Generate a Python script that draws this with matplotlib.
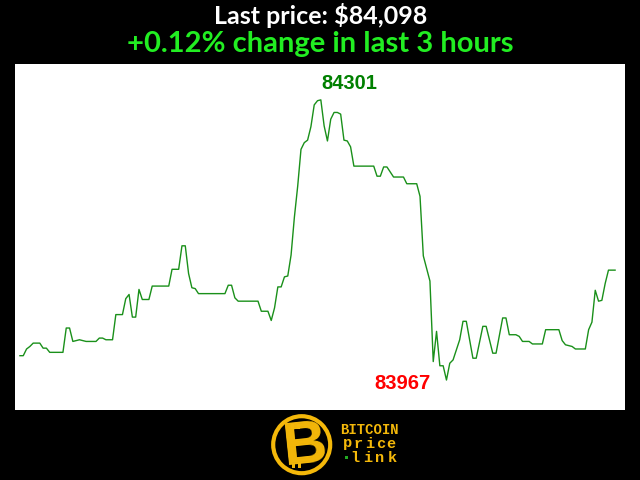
import numpy as np
import matplotlib.pyplot as plt
from matplotlib.patches import Circle, Rectangle

# precio de BTC en las ultimas 3 horas (minuto, USD)
minutos = [0, 1, 2, 3, 4, 6, 7, 8, 9, 13, 14, 15, 16, 18, 19, 20, 23, 24, 25, 26, 28,
           29, 31, 32, 33, 34, 35, 36, 37, 39, 40, 45, 46, 48, 49, 50, 51, 52, 53, 54,
           62, 63, 64, 65, 66, 72, 73, 75, 76, 77, 78, 79, 80, 81, 82, 83, 84, 85, 86,
           87, 88, 89, 90, 91, 92, 93, 94, 95, 96, 97, 98, 99, 100, 101, 107, 108, 109,
           110, 111, 113, 116, 117, 120, 121, 122, 124, 125, 126, 127, 128, 129, 130,
           131, 133, 134, 135, 137, 138, 140, 141, 143, 144, 146, 147, 148, 150, 151,
           152, 154, 155, 158, 159, 163, 164, 165, 167, 168, 171, 172, 173, 174, 175,
           176, 177, 178, 180]
precios = [83996, 83996, 84004, 84007, 84011, 84011, 84005, 84005, 84000, 84000, 84029,
           84029, 84013, 84015, 84014, 84013, 84013, 84017, 84017, 84015, 84015, 84045,
           84045, 84064, 84069, 84042, 84042, 84075, 84063, 84063, 84079, 84079, 84099,
           84099, 84127, 84127, 84094, 84077, 84076, 84070, 84070, 84080, 84080, 84065,
           84061, 84061, 84049, 84049, 84038, 84053, 84078, 84078, 84090, 84091, 84116,
           84161, 84198, 84242, 84250, 84253, 84269, 84295, 84300, 84301, 84270, 84252,
           84278, 84286, 84286, 84284, 84253, 84252, 84245, 84222, 84222, 84210, 84210,
           84221, 84221, 84209, 84209, 84201, 84201, 84186, 84115, 84085, 83989, 84025,
           83984, 83984, 83967, 83987, 83991, 84015, 84037, 84037, 83993, 83993, 84031,
           84031, 83999, 83999, 84041, 84041, 84021, 84021, 84019, 84013, 84013, 84010,
           84010, 84027, 84027, 84014, 84009, 84007, 84004, 84004, 84027, 84036, 84074,
           84061, 84062, 84082, 84098, 84098]

precio_final = precios[-1]
cambio = (precios[-1] - precios[0]) / precios[0] * 100

fig = plt.figure(figsize=(6.4, 4.8), dpi=100)
fig.patch.set_facecolor('black')

ax = fig.add_axes([15 / 640, 70 / 480, 610 / 640, 346 / 480])
ax.set_facecolor('white')
ax.plot(minutos, precios, color='#1a901a', linewidth=1.0)
for s in ax.spines.values():
    s.set_visible(False)
ax.set_xticks([])
ax.set_yticks([])
ax.set_xlim(-1.5, 183)
pmin, pmax = min(precios), max(precios)
rango = pmax - pmin
ax.set_ylim(pmin - 0.107 * rango, pmax + 0.128 * rango)

# etiquetas de maximo y minimo
i_max = int(np.argmax(precios))
i_min = int(np.argmin(precios))
ax.annotate(str(pmax), xy=(minutos[i_max], pmax), xytext=(20.5, 11.5),
            textcoords='offset points', ha='center', va='center',
            color='#008000', fontsize=14.5, fontweight='bold',
            family='Liberation Sans')
ax.annotate(str(pmin), xy=(minutos[i_min], pmin), xytext=(-32, -2.2),
            textcoords='offset points', ha='center', va='center',
            color='#ff0000', fontsize=14.5, fontweight='bold',
            family='Liberation Sans')

# capa para titulos y logo, en pixeles
capa = fig.add_axes([0, 0, 1, 1])
capa.set_xlim(0, 640)
capa.set_ylim(480, 0)
capa.axis('off')

capa.text(320.5, 24, f'Last price: ${precio_final:,}', ha='center', va='baseline',
          color='white', fontsize=18, fontweight='bold', family='Lato')
capa.text(320, 52, f'+{cambio:.2f}% change in last 3 hours', ha='center',
          va='baseline', color='#22ee22', fontsize=21, fontweight='bold',
          family='Lato')

# logo
oro = '#f4b80a'
capa.add_patch(Circle((301.7, 444.7), 28.5, facecolor='black', edgecolor=oro,
                      linewidth=3))
capa.text(305, 447, 'B', ha='center', va='center', color=oro, fontsize=44,
          fontweight='bold', family='Liberation Sans', rotation=6)
capa.add_patch(Rectangle((291, 424), 2.5, 5, facecolor=oro, edgecolor='none'))
capa.add_patch(Rectangle((297, 424), 2.5, 5, facecolor=oro, edgecolor='none'))
capa.add_patch(Rectangle((292, 463), 2.5, 5, facecolor=oro, edgecolor='none'))
capa.add_patch(Rectangle((298, 463), 2.5, 5, facecolor=oro, edgecolor='none'))

capa.text(369.5, 434, 'BITCOIN', ha='center', va='baseline', color=oro,
          fontsize=10, fontweight='bold', family='Liberation Mono')
for k, c in enumerate('price'):
    capa.text(347.2 + 11 * k, 447.5, c, ha='center', va='baseline', color=oro,
              fontsize=11, fontweight='bold', family='Liberation Mono')
for k, c in enumerate('link'):
    capa.text(355.1 + 12.25 * k, 461.5, c, ha='center', va='baseline', color=oro,
              fontsize=11, fontweight='bold', family='Liberation Mono')
capa.add_patch(Rectangle((345, 456), 3, 3, facecolor='#22aa22', edgecolor='none'))

fig.savefig('out.png', dpi=100, facecolor=fig.get_facecolor())
